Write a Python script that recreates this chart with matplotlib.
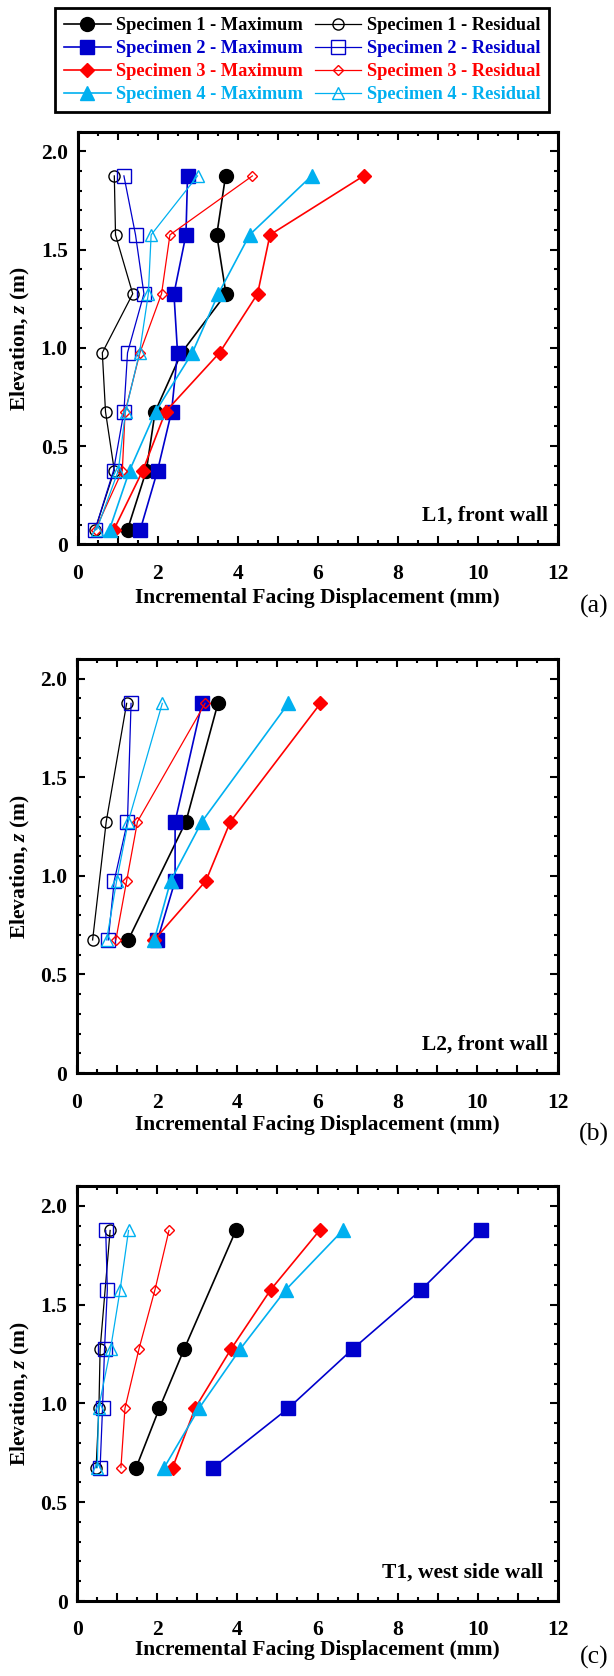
import matplotlib
matplotlib.use('Agg')
import matplotlib.pyplot as plt
from matplotlib.ticker import MultipleLocator, FuncFormatter

# elevations of the measurement points (m)
z_l1 = [0.075, 0.375, 0.675, 0.975, 1.275, 1.575, 1.875]
z_l2 = [0.675, 0.975, 1.275, 1.875]
z_l2_s1 = [0.675, 1.275, 1.875]
z_t1 = [0.675, 0.975, 1.275, 1.575, 1.875]
z_t1_s1 = [0.675, 0.975, 1.275, 1.875]

# (a) L1, front wall - incremental facing displacement (mm)
l1_max_s1 = [1.25, 1.72, 1.94, 2.60, 3.71, 3.48, 3.70]
l1_max_s2 = [1.57, 2.00, 2.35, 2.50, 2.41, 2.71, 2.75]
l1_max_s3 = [0.91, 1.63, 2.20, 3.55, 4.50, 4.81, 7.15]
l1_max_s4 = [0.80, 1.30, 1.95, 2.87, 3.52, 4.30, 5.85]
l1_res_s1 = [0.44, 0.92, 0.70, 0.62, 1.38, 0.95, 0.92]
l1_res_s2 = [0.44, 0.90, 1.16, 1.25, 1.66, 1.45, 1.16]
l1_res_s3 = [0.45, 1.12, 1.19, 1.56, 2.10, 2.31, 4.37]
l1_res_s4 = [0.48, 1.02, 1.20, 1.55, 1.77, 1.84, 3.00]

# (b) L2, front wall
l2_max_s1 = [1.28, 2.72, 3.52]
l2_max_s2 = [2.01, 2.45, 2.45, 3.12]
l2_max_s3 = [1.93, 3.22, 3.83, 6.08]
l2_max_s4 = [1.93, 2.34, 3.12, 5.28]
l2_res_s1 = [0.39, 0.73, 1.24]
l2_res_s2 = [0.78, 0.93, 1.26, 1.35]
l2_res_s3 = [0.97, 1.24, 1.51, 3.20]
l2_res_s4 = [0.74, 0.99, 1.28, 2.13]

# (c) T1, west side wall
t1_max_s1 = [1.47, 2.05, 2.67, 3.96]
t1_max_s2 = [3.40, 5.27, 6.88, 8.59, 10.09]
t1_max_s3 = [2.38, 2.94, 3.84, 4.83, 6.05]
t1_max_s4 = [2.17, 3.04, 4.07, 5.21, 6.63]
t1_res_s1 = [0.47, 0.54, 0.57, 0.82]
t1_res_s2 = [0.57, 0.63, 0.68, 0.75, 0.71]
t1_res_s3 = [1.09, 1.19, 1.54, 1.94, 2.29]
t1_res_s4 = [0.50, 0.53, 0.83, 1.07, 1.28]

names = ['Specimen 1', 'Specimen 2', 'Specimen 3', 'Specimen 4']
colors = ['black', '#0000CC', '#FF0000', '#00B0F0']
markers = ['o', 's', 'D', '^']
ms_max = [10, 10, 7, 10]
ms_res = [8, 9.5, 5.5, 8.5]

plt.rcParams['font.family'] = ['Liberation Serif', 'DejaVu Serif']
plt.rcParams['font.weight'] = 'bold'
plt.rcParams['mathtext.fontset'] = 'custom'
plt.rcParams['mathtext.rm'] = 'Liberation Serif:bold'
plt.rcParams['mathtext.it'] = 'Liberation Serif:bold:italic'

panels = [
    ('L1, front wall', '(a)',
     [z_l1] * 4, [l1_max_s1, l1_max_s2, l1_max_s3, l1_max_s4],
     [z_l1] * 4, [l1_res_s1, l1_res_s2, l1_res_s3, l1_res_s4]),
    ('L2, front wall', '(b)',
     [z_l2_s1, z_l2, z_l2, z_l2], [l2_max_s1, l2_max_s2, l2_max_s3, l2_max_s4],
     [z_l2_s1, z_l2, z_l2, z_l2], [l2_res_s1, l2_res_s2, l2_res_s3, l2_res_s4]),
    ('T1, west side wall', '(c)',
     [z_t1_s1, z_t1, z_t1, z_t1], [t1_max_s1, t1_max_s2, t1_max_s3, t1_max_s4],
     [z_t1_s1, z_t1, z_t1, z_t1], [t1_res_s1, t1_res_s2, t1_res_s3, t1_res_s4]),
]

W, H = 614, 1676
fig = plt.figure(figsize=(W / 100, H / 100), dpi=100)

# axes boxes in pixels: left, top, right, bottom
boxes = [(77.5, 131.7, 557.7, 544.3),
         (77.0, 659.0, 557.5, 1073.0),
         (77.3, 1186.0, 557.7, 1601.0)]
# per panel: tick label pad (pt), xlabel offset, tag offset, note right edge (px)
tick_pad = [14.5, 14.5, 13.5]
xlab_off = [53.4, 52.0, 49.0]
tag_off = [62, 61, 56]
note_right = [548, 548, 543.5]
FS = 15.5


def yfmt(v, pos):
    if abs(v) < 1e-9:
        return '0'
    return '{:.1f}'.format(v)


def xfmt(v, pos):
    n = int(round(v))
    return str(n) if n % 2 == 0 else ''


handles_max = []
handles_res = []
for k, (note, tag, zmax, xmax, zres, xres) in enumerate(panels):
    l, t, r, b = boxes[k]
    ax = fig.add_axes([l / W, 1 - b / H, (r - l) / W, (b - t) / H])

    hm, hr = [], []
    for i in range(4):
        line, = ax.plot(xmax[i], zmax[i], color=colors[i], marker=markers[i],
                        markersize=ms_max[i], lw=1.2, mec=colors[i], mfc=colors[i],
                        label=names[i] + ' - Maximum')
        hm.append(line)
    for i in range(4):
        line, = ax.plot(xres[i], zres[i], color=colors[i], marker=markers[i],
                        markersize=ms_res[i], lw=0.9, mec=colors[i], mfc='none',
                        mew=1.0, label=names[i] + ' - Residual')
        hr.append(line)
    if k == 0:
        handles_max, handles_res = hm, hr

    ax.set_xlim(0, 12)
    ax.set_ylim(0, 2.1)
    ax.xaxis.set_major_locator(MultipleLocator(1))
    ax.xaxis.set_minor_locator(MultipleLocator(0.5))
    ax.yaxis.set_major_locator(MultipleLocator(0.5))
    ax.yaxis.set_minor_locator(MultipleLocator(0.1))
    ax.xaxis.set_major_formatter(FuncFormatter(xfmt))
    ax.yaxis.set_major_formatter(FuncFormatter(yfmt))
    ax.tick_params(which='both', direction='in', top=True, right=True,
                   width=1.5, labelsize=FS)
    ax.tick_params(which='major', length=6)
    ax.tick_params(which='minor', length=3)
    ax.tick_params(axis='x', pad=tick_pad[k])
    ax.tick_params(axis='y', pad=7)
    for s in ax.spines.values():
        s.set_linewidth(2.2)

    ax.set_xlabel('Incremental Facing Displacement (mm)', fontsize=FS,
                  fontweight='bold', va='center')
    ax.xaxis.set_label_coords(0.5, -xlab_off[k] / (b - t))
    ax.set_ylabel('Elevation, $z$ (m)', fontsize=FS, fontweight='bold', va='center')
    ax.yaxis.set_label_coords((20 - l) / (r - l), 0.5)

    ax.text((note_right[k] - l) / (r - l), 28.5 / (b - t), note,
            transform=ax.transAxes, ha='right', va='center',
            fontsize=FS, fontweight='bold')
    fig.text(594 / W, 1 - (b + tag_off[k]) / H, tag, ha='center', va='center',
             fontsize=18.5, fontweight='normal')

leg = fig.legend(handles_max + handles_res,
                 [h.get_label() for h in handles_max + handles_res],
                 loc='upper left', bbox_to_anchor=(55 / W, 1 - 8.5 / H), ncol=2,
                 frameon=True, fancybox=False, edgecolor='black', framealpha=1,
                 handlelength=2.55, handletextpad=0.3, columnspacing=0.64,
                 labelspacing=0.33, borderpad=0.48, borderaxespad=0,
                 labelcolor='linecolor', prop={'weight': 'bold', 'size': 13.2})
leg.get_frame().set_linewidth(2)

fig.savefig('out.png', dpi=100)
